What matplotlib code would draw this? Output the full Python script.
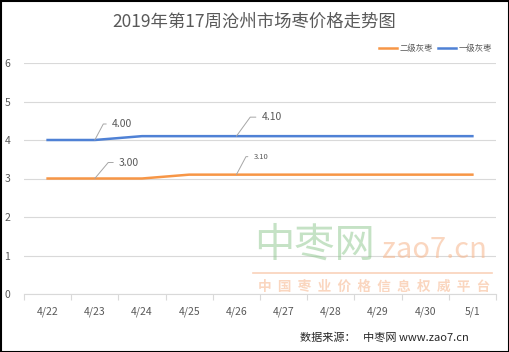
import matplotlib
matplotlib.use("Agg")
import matplotlib.pyplot as plt
from matplotlib.patches import Rectangle
from matplotlib.lines import Line2D

plt.rcParams['font.family'] = ['Noto Sans CJK SC', 'DejaVu Sans']

dates = ['4/22', '4/23', '4/24', '4/25', '4/26', '4/27', '4/28', '4/29', '4/30', '5/1']
grade2 = [3.00, 3.00, 3.00, 3.10, 3.10, 3.10, 3.10, 3.10, 3.10, 3.10]
grade1 = [4.00, 4.00, 4.10, 4.10, 4.10, 4.10, 4.10, 4.10, 4.10, 4.10]
yticks = [0, 1, 2, 3, 4, 5, 6]

c2 = '#F79646'
c1 = '#4F81D5'
tc = '#595959'
gc = '#D9D9D9'

W, H = 510, 352
fig = plt.figure(figsize=(W/100, H/100), dpi=100)
ax = fig.add_axes([24/W, 1-294/H, (496-24)/W, (294-63)/H])

x = list(range(len(dates)))
ax.plot(x, grade2, color=c2, lw=1.8, label='二级灰枣', zorder=3)
ax.plot(x, grade1, color=c1, lw=1.8, label='一级灰枣', zorder=3)

ax.set_xlim(-0.5, len(dates)-0.5)
ax.set_ylim(0, 6)
ax.set_yticks(yticks)
ax.set_yticklabels([str(v) for v in yticks], color=tc, fontsize=7.5)
ax.set_xticks(x)
ax.set_xticklabels(dates, color=tc, fontsize=7.5)
ax.set_xticks([i-0.5 for i in range(len(dates)+1)], minor=True)
ax.tick_params(axis='x', which='major', length=0, pad=9)
ax.tick_params(axis='x', which='minor', length=4, color=gc, width=0.8)
for lab_ in ax.get_yticklabels():
    lab_.set_horizontalalignment('center')
ax.tick_params(axis='y', length=0, pad=12)
ax.grid(axis='y', color=gc, lw=0.8, zorder=0)
for s in ['top', 'right', 'left']:
    ax.spines[s].set_visible(False)
ax.spines['bottom'].set_color(gc)
ax.spines['bottom'].set_linewidth(0.8)

def lab(xi, yv, text, off, angB, fs=7.5):
    ax.annotate(text, xy=(xi, yv), xytext=off, textcoords='offset pixels',
                fontsize=fs, color=tc, va='center', ha='left',
                arrowprops=dict(arrowstyle='-', color='#A6A6A6', lw=0.7,
                                relpos=(0, 0.5), shrinkA=2, shrinkB=0,
                                connectionstyle=f'angle,angleA=0,angleB={angB},rad=0'),
                zorder=4)

lab(1, grade1[1], '4.00', (17, 16), 62)
lab(4, grade1[4], '4.10', (25, 19), 54)
lab(1, grade2[1], '3.00', (24, 16), 50)
lab(4, grade2[4], '3.10', (17, 18), 62, fs=5.5)

fig.text(254/W, 1-22/H, '2019年第17周沧州市场枣价格走势图', ha='center', va='center',
         fontsize=12.5, color=tc)

handles = [Line2D([0], [0], color=c2, lw=1.8), Line2D([0], [0], color=c1, lw=1.8)]
fig.legend(handles, ['二级灰枣', '一级灰枣'], loc='center right',
           bbox_to_anchor=(500/W, 1-48/H), ncol=2, frameon=False, fontsize=6,
           handlelength=2.2, handletextpad=0.3, columnspacing=0.6, labelcolor=tc)

# watermark
fig.text(315/W, 1-245/H, '中枣网', ha='center', va='center', fontsize=29,
         color='#8CC68C', alpha=0.5)
fig.text(434/W, 1-250/H, 'zao7.cn', ha='center', va='center', fontsize=21,
         color='#F7B58C', alpha=0.55)
fig.add_artist(Line2D([253/W, 492/W], [1-273/H, 1-273/H], color='#F7B58C',
                      lw=1.2, alpha=0.6))
fig.text(374/W, 1-287/H, '  '.join('中国枣业价格信息权威平台'), ha='center', va='center',
         fontsize=9.8, color='#F7B58C', alpha=0.55, fontweight='bold')

fig.text(384/W, 1-337/H, '数据来源：   中枣网 www.zao7.cn', ha='center', va='center',
         fontsize=8, color='#262626')

fig.add_artist(Rectangle((0.5/W, 0.5/H), 1-1.5/W, 1-1.5/H, transform=fig.transFigure,
                         fill=False, edgecolor='black', lw=1.5))

fig.savefig('out.png', dpi=100)
